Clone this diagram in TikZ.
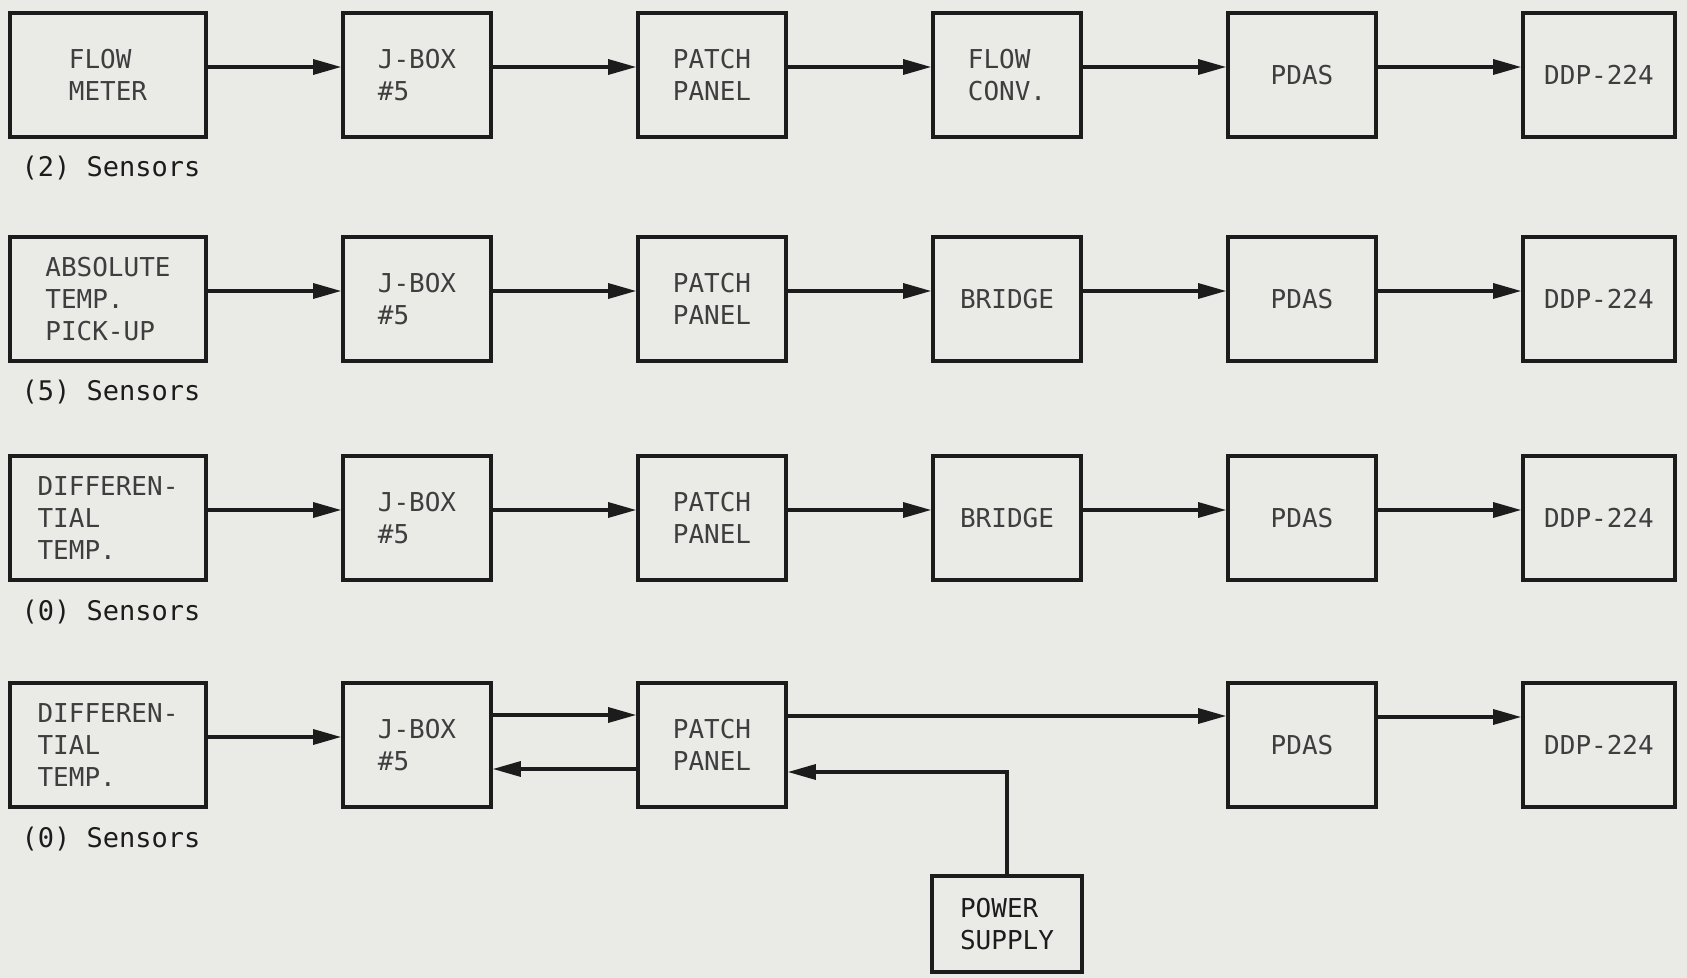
\documentclass[tikz,border=0pt]{standalone}
\usepackage{fontspec}
\usepackage{xcolor}
\usetikzlibrary{positioning,arrows.meta,calc}
\newfontfamily\boxfont{DejaVu Sans Mono}
\definecolor{paper}{RGB}{234,234,231}
\definecolor{ink}{RGB}{28,28,28}
\definecolor{faded}{RGB}{62,62,62}

\begin{document}
\begin{tikzpicture}[node distance=71.7pt, every node/.style={font=\boxfont\fontsize{13}{16}\selectfont}]
  \tikzset{
    unit/.style={rectangle, draw=ink, line width=1.8pt, fill=paper, minimum width=74pt, minimum height=62pt, align=left, text=faded, inner sep=2pt},
    sensor/.style={unit, minimum width=98pt},
    computer/.style={unit, minimum width=76pt},
    supply/.style={unit, minimum width=75pt, minimum height=48pt, text=ink},
    count/.style={font=\boxfont\fontsize{13.5}{16}\selectfont, text=ink, inner sep=0pt},
    signal/.style={-{Triangle[length=14pt,width=7.5pt]}, line width=1.6pt, draw=ink}
  }
  \fill[paper] (0,0) rectangle (843.5pt,-489pt);
  \useasboundingbox (0,0) rectangle (843.5pt,-489pt);

  % row 1
  \node[sensor] (flow) at (54pt,-37.5pt) {FLOW\\METER};
  \node[unit, right=66.7pt of flow] (jbox1) {J-BOX\\\#5};
  \node[unit, right=of jbox1] (patch1) {PATCH\\PANEL};
  \node[unit, right=of patch1] (conv) {FLOW\\CONV.};
  \node[unit, right=of conv] (pdas1) {PDAS};
  \node[computer, right=of pdas1] (ddp1) {DDP-224};

  % row 2
  \node[sensor, below=48.2pt of flow] (abs) {ABSOLUTE\\TEMP.\\PICK-UP};
  \node[unit, right=66.7pt of abs] (jbox2) {J-BOX\\\#5};
  \node[unit, right=of jbox2] (patch2) {PATCH\\PANEL};
  \node[unit, right=of patch2] (bridge2) {BRIDGE};
  \node[unit, right=of bridge2] (pdas2) {PDAS};
  \node[computer, right=of pdas2] (ddp2) {DDP-224};

  % row 3
  \node[sensor, below=45.7pt of abs] (diff3) {DIFFEREN-\\TIAL\\TEMP.};
  \node[unit, right=66.7pt of diff3] (jbox3) {J-BOX\\\#5};
  \node[unit, right=of jbox3] (patch3) {PATCH\\PANEL};
  \node[unit, right=of patch3] (bridge3) {BRIDGE};
  \node[unit, right=of bridge3] (pdas3) {PDAS};
  \node[computer, right=of pdas3] (ddp3) {DDP-224};

  % row 4
  \node[sensor, below=49.7pt of diff3] (diff4) {DIFFEREN-\\TIAL\\TEMP.};
  \node[unit, right=66.7pt of diff4] (jbox4) {J-BOX\\\#5};
  \node[unit, right=of jbox4] (patch4) {PATCH\\PANEL};
  \node[unit, below=49.7pt of pdas3] (pdas4) {PDAS};
  \node[computer, right=of pdas4] (ddp4) {DDP-224};
  \node[supply, below=146.2pt of bridge3] (power) {POWER\\SUPPLY};

  % sensor counts
  \node[count, anchor=west] (n1) at ([xshift=6.5pt,yshift=-14.5pt]flow.south west) {(2) Sensors};
  \node[count, anchor=west] (n2) at ([xshift=6.5pt,yshift=-14.5pt]abs.south west) {(5) Sensors};
  \node[count, anchor=west] (n3) at ([xshift=6.5pt,yshift=-15pt]diff3.south west) {(0) Sensors};
  \node[count, anchor=west] (n4) at ([xshift=6.5pt,yshift=-15pt]diff4.south west) {(0) Sensors};

  % arrows
  \foreach \a/\b in {flow/jbox1, jbox1/patch1, patch1/conv, conv/pdas1, pdas1/ddp1,
                     abs/jbox2, jbox2/patch2, patch2/bridge2, bridge2/pdas2, pdas2/ddp2,
                     diff3/jbox3, jbox3/patch3, patch3/bridge3, bridge3/pdas3, pdas3/ddp3}
    \draw[signal] ([yshift=4pt]\a.east) -- ([yshift=4pt]\b.west);

  \draw[signal] ([yshift=4pt]diff4.east) -- ([yshift=4pt]jbox4.west);
  \draw[signal] ([yshift=15pt]jbox4.east) -- ([yshift=15pt]patch4.west);
  \draw[signal] ([yshift=-12pt]patch4.west) -- ([yshift=-12pt]jbox4.east);
  \draw[signal] ([yshift=14.5pt]patch4.east) -- ([yshift=14.5pt]pdas4.west);
  \draw[signal] ([yshift=14pt]pdas4.east) -- ([yshift=14pt]ddp4.west);
  \draw[signal] (power.north) |- ([yshift=-13.5pt]patch4.east);
\end{tikzpicture}
\end{document}
